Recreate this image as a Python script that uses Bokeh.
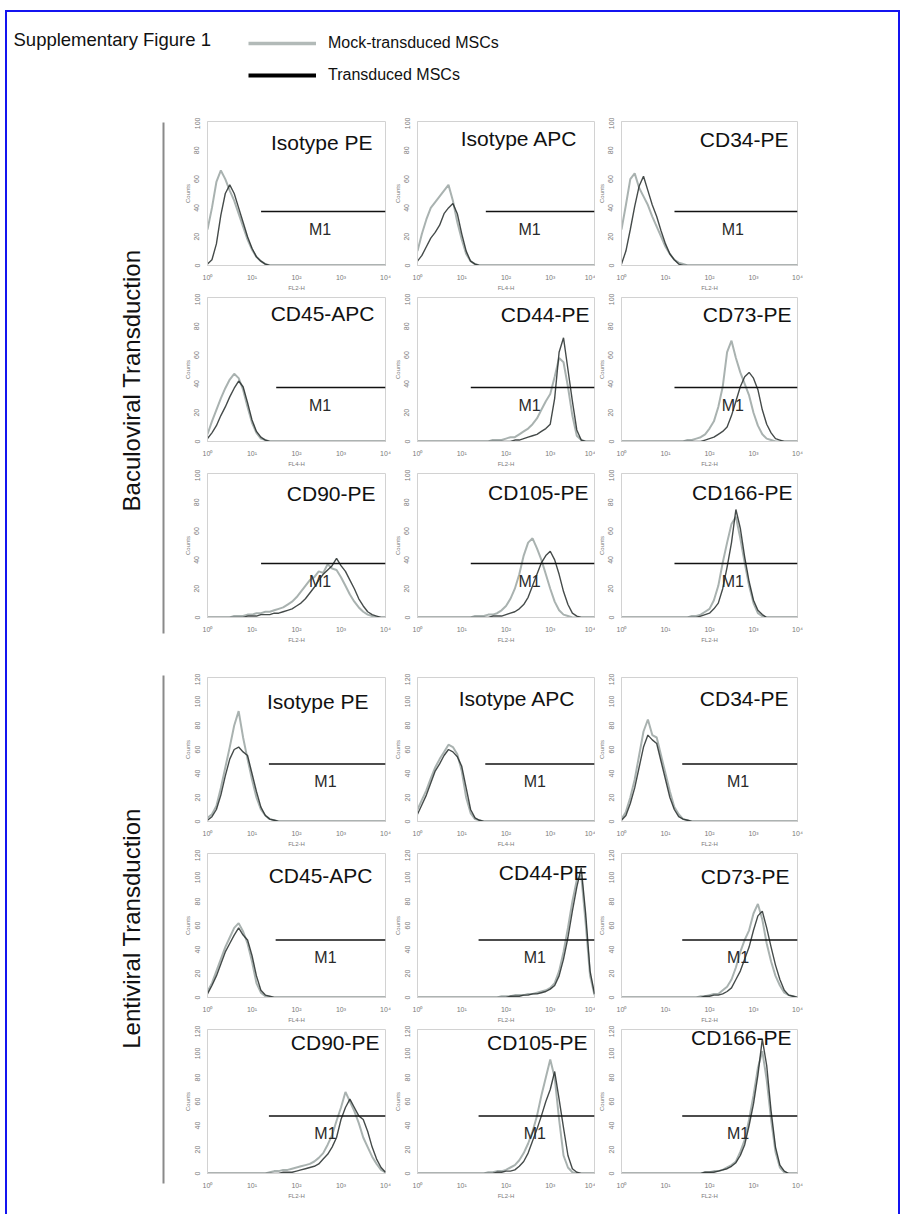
import numpy as np
from bokeh.plotting import figure
from bokeh.layouts import column, row
from bokeh.models import Range1d, FixedTicker, Label, Legend, LegendItem, Spacer
from bokeh.embed import file_html
from bokeh.resources import INLINE

# ---------------- data ----------------
# channel positions (log10 of fluorescence), shared by every histogram
LOG_CH = [0.0, 0.1, 0.2, 0.3, 0.4, 0.5, 0.6, 0.7, 0.8, 0.9,
          1.0, 1.1, 1.2, 1.3, 1.4, 1.5, 1.6, 1.7, 1.8, 1.9,
          2.0, 2.1, 2.2, 2.3, 2.4, 2.5, 2.6, 2.7, 2.8, 2.9,
          3.0, 3.1, 3.2, 3.3, 3.4, 3.5, 3.6, 3.7, 3.8, 3.9, 4.0]

X_TICKS = [1, 10, 100, 1000, 10000]
X_TICK_LABELS = ["10\u2070", "10\u00b9", "10\u00b2", "10\u00b3", "10\u2074"]
B_YTICKS = [0, 20, 40, 60, 80, 100]
L_YTICKS = [0, 20, 40, 60, 80, 100, 120]

MARKERS = ["Isotype PE", "Isotype APC", "CD34-PE",
           "CD45-APC", "CD44-PE", "CD73-PE",
           "CD90-PE", "CD105-PE", "CD166-PE"]
CHANNELS = ["FL2-H", "FL4-H", "FL2-H",
            "FL4-H", "FL2-H", "FL2-H",
            "FL2-H", "FL2-H", "FL2-H"]

# Baculoviral transduction: counts per channel
B_ISO_PE_MOCK = [25, 40, 58, 66, 60, 52, 45, 36, 27, 18,
                 11, 6, 3, 1, 0, 0, 0, 0, 0, 0,
                 0, 0, 0, 0, 0, 0, 0, 0, 0, 0,
                 0, 0, 0, 0, 0, 0, 0, 0, 0, 0, 0]
B_ISO_PE_TRANS = [1, 4, 15, 35, 50, 56, 50, 40, 30, 20,
                  12, 6, 3, 1, 0, 0, 0, 0, 0, 0,
                  0, 0, 0, 0, 0, 0, 0, 0, 0, 0,
                  0, 0, 0, 0, 0, 0, 0, 0, 0, 0, 0]
B_ISO_APC_MOCK = [10, 22, 32, 40, 44, 48, 52, 56, 45, 30,
                  18, 8, 3, 1, 0, 0, 0, 0, 0, 0,
                  0, 0, 0, 0, 0, 0, 0, 0, 0, 0,
                  0, 0, 0, 0, 0, 0, 0, 0, 0, 0, 0]
B_ISO_APC_TRANS = [3, 7, 13, 19, 23, 28, 36, 40, 43, 36,
                   22, 10, 3, 1, 0, 0, 0, 0, 0, 0,
                   0, 0, 0, 0, 0, 0, 0, 0, 0, 0,
                   0, 0, 0, 0, 0, 0, 0, 0, 0, 0, 0]
B_CD34_MOCK = [25, 42, 60, 64, 54, 48, 42, 34, 27, 20,
               13, 8, 4, 2, 1, 0, 0, 0, 0, 0,
               0, 0, 0, 0, 0, 0, 0, 0, 0, 0,
               0, 0, 0, 0, 0, 0, 0, 0, 0, 0, 0]
B_CD34_TRANS = [1, 10, 25, 41, 55, 62, 52, 42, 34, 24,
                15, 8, 4, 1, 0, 0, 0, 0, 0, 0,
                0, 0, 0, 0, 0, 0, 0, 0, 0, 0,
                0, 0, 0, 0, 0, 0, 0, 0, 0, 0, 0]
B_CD45_MOCK = [5, 14, 22, 30, 37, 43, 47, 44, 36, 24,
               13, 6, 2, 1, 0, 0, 0, 0, 0, 0,
               0, 0, 0, 0, 0, 0, 0, 0, 0, 0,
               0, 0, 0, 0, 0, 0, 0, 0, 0, 0, 0]
B_CD45_TRANS = [2, 6, 11, 18, 24, 31, 37, 42, 38, 27,
                15, 7, 3, 1, 0, 0, 0, 0, 0, 0,
                0, 0, 0, 0, 0, 0, 0, 0, 0, 0,
                0, 0, 0, 0, 0, 0, 0, 0, 0, 0, 0]
B_CD44_MOCK = [0, 0, 0, 0, 0, 0, 0, 0, 0, 0,
               0, 0, 0, 0, 0, 0, 0, 1, 1, 1,
               2, 3, 3, 5, 7, 9, 12, 16, 22, 28,
               33, 45, 58, 55, 38, 18, 4, 1, 0, 0, 0]
B_CD44_TRANS = [0, 0, 0, 0, 0, 0, 0, 0, 0, 0,
                0, 0, 0, 0, 0, 0, 0, 0, 0, 0,
                0, 0, 1, 1, 2, 3, 4, 5, 7, 9,
                12, 30, 62, 72, 50, 28, 8, 1, 0, 0, 0]
B_CD73_MOCK = [0, 0, 0, 0, 0, 0, 0, 0, 0, 0,
               0, 0, 0, 0, 0, 1, 1, 2, 3, 5,
               9, 14, 24, 38, 62, 70, 58, 48, 40, 32,
               20, 11, 5, 2, 1, 0, 0, 0, 0, 0, 0]
B_CD73_TRANS = [0, 0, 0, 0, 0, 0, 0, 0, 0, 0,
                0, 0, 0, 0, 0, 0, 0, 0, 0, 1,
                2, 3, 5, 7, 10, 18, 28, 38, 45, 48,
                44, 36, 22, 12, 6, 2, 1, 0, 0, 0, 0]
B_CD90_MOCK = [0, 0, 0, 0, 0, 0, 1, 1, 1, 2,
               2, 3, 3, 4, 4, 5, 6, 7, 9, 11,
               14, 18, 22, 26, 28, 32, 31, 37, 34, 33,
               28, 22, 16, 11, 7, 4, 2, 1, 0, 0, 0]
B_CD90_TRANS = [0, 0, 0, 0, 0, 0, 0, 0, 0, 1,
                1, 1, 2, 2, 2, 3, 3, 4, 5, 6,
                8, 10, 13, 17, 21, 26, 30, 33, 36, 41,
                36, 32, 26, 20, 13, 8, 4, 2, 1, 0, 0]
B_CD105_MOCK = [0, 0, 0, 0, 0, 0, 0, 0, 0, 0,
                0, 0, 0, 1, 1, 1, 2, 2, 3, 5,
                8, 13, 20, 30, 43, 52, 55, 48, 40, 30,
                20, 11, 5, 2, 1, 0, 0, 0, 0, 0, 0]
B_CD105_TRANS = [0, 0, 0, 0, 0, 0, 0, 0, 0, 0,
                 0, 0, 0, 0, 0, 0, 0, 1, 1, 1,
                 2, 3, 4, 6, 9, 14, 22, 30, 38, 43,
                 46, 40, 30, 18, 9, 3, 1, 0, 0, 0, 0]
B_CD166_MOCK = [0, 0, 0, 0, 0, 0, 0, 0, 0, 0,
                0, 0, 0, 0, 0, 0, 1, 1, 2, 4,
                6, 12, 22, 38, 52, 65, 70, 55, 38, 22,
                10, 3, 1, 0, 0, 0, 0, 0, 0, 0, 0]
B_CD166_TRANS = [0, 0, 0, 0, 0, 0, 0, 0, 0, 0,
                 0, 0, 0, 0, 0, 0, 0, 0, 1, 2,
                 3, 6, 10, 20, 35, 52, 75, 62, 42, 25,
                 12, 5, 2, 0, 0, 0, 0, 0, 0, 0, 0]

# Lentiviral transduction: counts per channel
L_ISO_PE_MOCK = [3, 6, 13, 28, 45, 62, 80, 92, 70, 52,
                 35, 20, 10, 5, 2, 1, 0, 0, 0, 0,
                 0, 0, 0, 0, 0, 0, 0, 0, 0, 0,
                 0, 0, 0, 0, 0, 0, 0, 0, 0, 0, 0]
L_ISO_PE_TRANS = [1, 4, 10, 22, 38, 52, 60, 62, 58, 55,
                  40, 25, 12, 5, 2, 1, 0, 0, 0, 0,
                  0, 0, 0, 0, 0, 0, 0, 0, 0, 0,
                  0, 0, 0, 0, 0, 0, 0, 0, 0, 0, 0]
L_ISO_APC_MOCK = [10, 18, 26, 36, 45, 52, 58, 64, 62, 56,
                  42, 20, 7, 2, 1, 0, 0, 0, 0, 0,
                  0, 0, 0, 0, 0, 0, 0, 0, 0, 0,
                  0, 0, 0, 0, 0, 0, 0, 0, 0, 0, 0]
L_ISO_APC_TRANS = [6, 14, 22, 32, 42, 48, 55, 60, 58, 54,
                   46, 28, 10, 3, 1, 0, 0, 0, 0, 0,
                   0, 0, 0, 0, 0, 0, 0, 0, 0, 0,
                   0, 0, 0, 0, 0, 0, 0, 0, 0, 0, 0]
L_CD34_MOCK = [2, 8, 20, 35, 55, 75, 85, 72, 70, 55,
               40, 25, 12, 6, 2, 1, 0, 0, 0, 0,
               0, 0, 0, 0, 0, 0, 0, 0, 0, 0,
               0, 0, 0, 0, 0, 0, 0, 0, 0, 0, 0]
L_CD34_TRANS = [1, 5, 15, 28, 45, 62, 72, 68, 65, 50,
                35, 20, 10, 4, 2, 1, 0, 0, 0, 0,
                0, 0, 0, 0, 0, 0, 0, 0, 0, 0,
                0, 0, 0, 0, 0, 0, 0, 0, 0, 0, 0]
L_CD45_MOCK = [5, 12, 22, 32, 42, 50, 58, 62, 55, 45,
               30, 12, 4, 1, 0, 0, 0, 0, 0, 0,
               0, 0, 0, 0, 0, 0, 0, 0, 0, 0,
               0, 0, 0, 0, 0, 0, 0, 0, 0, 0, 0]
L_CD45_TRANS = [3, 10, 18, 28, 38, 45, 52, 58, 52, 48,
                35, 18, 6, 2, 1, 0, 0, 0, 0, 0,
                0, 0, 0, 0, 0, 0, 0, 0, 0, 0,
                0, 0, 0, 0, 0, 0, 0, 0, 0, 0, 0]
L_CD44_MOCK = [0, 0, 0, 0, 0, 0, 0, 0, 0, 0,
               0, 0, 0, 0, 0, 0, 0, 0, 0, 1,
               1, 1, 2, 2, 2, 3, 3, 4, 5, 6,
               8, 12, 22, 38, 58, 80, 98, 102, 62, 18, 2]
L_CD44_TRANS = [0, 0, 0, 0, 0, 0, 0, 0, 0, 0,
                0, 0, 0, 0, 0, 0, 0, 0, 0, 0,
                0, 1, 1, 1, 2, 2, 3, 3, 4, 5,
                7, 10, 18, 32, 50, 72, 92, 108, 70, 22, 3]
L_CD73_MOCK = [0, 0, 0, 0, 0, 0, 0, 0, 0, 0,
               0, 0, 0, 0, 0, 0, 0, 0, 1, 1,
               2, 3, 3, 6, 9, 15, 25, 38, 48, 56,
               70, 78, 65, 45, 30, 18, 10, 4, 2, 1, 0]
L_CD73_TRANS = [0, 0, 0, 0, 0, 0, 0, 0, 0, 0,
                0, 0, 0, 0, 0, 0, 0, 0, 0, 1,
                1, 2, 2, 3, 5, 8, 15, 22, 32, 42,
                56, 68, 72, 58, 42, 27, 15, 6, 2, 1, 0]
L_CD90_MOCK = [0, 0, 0, 0, 0, 0, 0, 0, 0, 0,
               0, 0, 0, 0, 1, 2, 2, 3, 3, 4,
               5, 6, 7, 8, 10, 13, 17, 24, 32, 44,
               55, 68, 60, 52, 42, 30, 22, 14, 8, 3, 1]
L_CD90_TRANS = [0, 0, 0, 0, 0, 0, 0, 0, 0, 0,
                0, 0, 0, 0, 0, 0, 0, 1, 1, 1,
                2, 3, 4, 5, 6, 8, 12, 16, 22, 30,
                45, 55, 62, 55, 48, 45, 35, 22, 12, 5, 1]
L_CD105_MOCK = [0, 0, 0, 0, 0, 0, 0, 0, 0, 0,
                0, 0, 0, 0, 0, 0, 1, 1, 2, 2,
                3, 5, 7, 11, 17, 25, 35, 48, 65, 80,
                95, 80, 45, 15, 5, 1, 0, 0, 0, 0, 0]
L_CD105_TRANS = [0, 0, 0, 0, 0, 0, 0, 0, 0, 0,
                 0, 0, 0, 0, 0, 0, 0, 0, 1, 1,
                 2, 2, 3, 6, 10, 17, 27, 37, 48, 60,
                 70, 85, 62, 38, 15, 4, 1, 0, 0, 0, 0]
L_CD166_MOCK = [0, 0, 0, 0, 0, 0, 0, 0, 0, 0,
                0, 0, 0, 0, 0, 0, 0, 0, 0, 1,
                1, 2, 2, 3, 5, 7, 10, 18, 28, 45,
                65, 88, 102, 78, 45, 18, 5, 1, 0, 0, 0]
L_CD166_TRANS = [0, 0, 0, 0, 0, 0, 0, 0, 0, 0,
                 0, 0, 0, 0, 0, 0, 0, 0, 0, 1,
                 1, 1, 2, 3, 4, 6, 9, 15, 24, 40,
                 58, 82, 112, 90, 52, 22, 7, 2, 0, 0, 0]

B_MOCK = [B_ISO_PE_MOCK, B_ISO_APC_MOCK, B_CD34_MOCK, B_CD45_MOCK, B_CD44_MOCK,
          B_CD73_MOCK, B_CD90_MOCK, B_CD105_MOCK, B_CD166_MOCK]
B_TRANS = [B_ISO_PE_TRANS, B_ISO_APC_TRANS, B_CD34_TRANS, B_CD45_TRANS, B_CD44_TRANS,
           B_CD73_TRANS, B_CD90_TRANS, B_CD105_TRANS, B_CD166_TRANS]
L_MOCK = [L_ISO_PE_MOCK, L_ISO_APC_MOCK, L_CD34_MOCK, L_CD45_MOCK, L_CD44_MOCK,
          L_CD73_MOCK, L_CD90_MOCK, L_CD105_MOCK, L_CD166_MOCK]
L_TRANS = [L_ISO_PE_TRANS, L_ISO_APC_TRANS, L_CD34_TRANS, L_CD45_TRANS, L_CD44_TRANS,
           L_CD73_TRANS, L_CD90_TRANS, L_CD105_TRANS, L_CD166_TRANS]

# M1 gate (marker region)
B_GATE_Y = 37.5
L_GATE_Y = 48
B_GATE_START = {"FL2-H": 16, "FL4-H": 35}
L_GATE_START = {"FL2-H": 24, "FL4-H": 34}
GATE_END = 10000
B_M1_POS = (340, 25)
L_M1_POS = (447, 33)

# ---------------- styles ----------------
for arr in B_MOCK + B_TRANS + L_MOCK + L_TRANS:
    assert len(arr) == len(LOG_CH)

MOCK_COLOR = "#a4aeac"
TRANS_COLOR = "#252b2a"
SANS = "Liberation Sans"
TICK_COLOR = "#7a7a7a"
BLUE = "#1414f0"

B_TITLE_RIGHT = [13, 17, 9, 11, 5, 6, 10, 6, 5]
B_TITLE_TOP = [21, 17, 18, 16, 17, 17, 20, 19, 19]
L_TITLE_RIGHT = [17, 19, 9, 13, 7, 8, 6, 7, 6]
L_TITLE_TOP = [24, 21, 21, 22, 19, 23, 13, 13, 8]

PAD_L = 22
FRAME_W = [182, 181, 180]
PAD_R = [6, 1, 6]
PAD_T = 4
PAD_B = 20
FRAME_H = 152
SIDE_W = 181
PAGE_W = 902
HEADER_H = 117
SECTION_H = 3 * (PAD_T + FRAME_H + PAD_B)

chan_x = 10 ** np.array(LOG_CH)


def make_panel(i, ymax, yticks, mock, trans, gate_y, gate_start, m1, right_pad, top_pad):
    col = i % 3
    p = figure(width=PAD_L + FRAME_W[col] + PAD_R[col], height=PAD_T + FRAME_H + PAD_B,
               x_axis_type="log", x_range=Range1d(1, 10000), y_range=Range1d(0, ymax),
               min_border_left=PAD_L, min_border_right=PAD_R[col],
               min_border_top=PAD_T, min_border_bottom=PAD_B,
               output_backend="svg", toolbar_location=None)
    p.grid.visible = False
    p.outline_line_color = "#d2d2d2"
    p.border_fill_color = "white"
    p.background_fill_color = "white"

    xa = p.xaxis[0]
    xa.ticker = FixedTicker(ticks=X_TICKS)
    xa.major_label_overrides = {t: s for t, s in zip(X_TICKS, X_TICK_LABELS)}
    xa.axis_label = CHANNELS[i]
    ya = p.yaxis[0]
    ya.ticker = FixedTicker(ticks=yticks)
    ya.axis_label = "Counts"
    ya.major_label_orientation = "vertical"
    for ax in (xa, ya):
        ax.axis_line_color = "#d2d2d2"
        ax.major_tick_line_color = None
        ax.minor_tick_line_color = None
        ax.major_label_text_font = SANS
        ax.major_label_text_font_size = "7px"
        ax.major_label_text_color = TICK_COLOR
        ax.major_label_standoff = 2
        ax.axis_label_text_font = SANS
        ax.axis_label_text_font_size = "6px"
        ax.axis_label_text_font_style = "normal"
        ax.axis_label_text_color = TICK_COLOR
        ax.axis_label_standoff = 1

    p.line(chan_x, mock, line_color=MOCK_COLOR, line_width=2.0, line_alpha=0.95)
    p.line(chan_x, trans, line_color=TRANS_COLOR, line_width=1.4, line_alpha=0.85)
    p.line([gate_start[CHANNELS[i]], GATE_END], [gate_y, gate_y],
           line_color="#111111", line_width=1.5)

    p.add_layout(Label(x=m1[0], y=m1[1], text="M1", text_align="center",
                       text_baseline="middle", text_font=SANS, text_font_size="16px",
                       text_color="#2a2a2a"))
    p.add_layout(Label(x=GATE_END, y=ymax, x_offset=-right_pad, y_offset=-top_pad,
                       text=MARKERS[i], text_align="right", text_baseline="middle",
                       text_font=SANS, text_font_size="21px", text_color="#111111"))
    return p


def blank_fig(w, h):
    f = figure(width=w, height=h, x_range=Range1d(0, w), y_range=Range1d(h, 0),
               x_axis_location=None, y_axis_location=None, min_border=0,
               outline_line_color=None, output_backend="svg", toolbar_location=None)
    f.grid.visible = False
    f.border_fill_alpha = 0
    f.background_fill_alpha = 0
    return f


def make_section(label, ymax, yticks, mocks, transs, gate_y, gate_start, m1,
                 right_pads, top_pads, line_top, line_bottom, label_y):
    side = blank_fig(SIDE_W, SECTION_H)
    side.segment(x0=[163], y0=[line_top], x1=[163], y1=[line_bottom],
                 line_color="#8a8a8a", line_width=2)
    side.add_layout(Label(x=131, y=label_y, text=label, angle=np.pi / 2,
                          text_align="center", text_baseline="middle",
                          text_font=SANS, text_font_size="24px", text_color="#111111"))
    panels = [make_panel(i, ymax, yticks, mocks[i], transs[i], gate_y, gate_start, m1,
                         right_pads[i], top_pads[i]) for i in range(9)]
    grid = column(row(*panels[0:3]), row(*panels[3:6]), row(*panels[6:9]))
    return row(side, grid)


# ---------------- header ----------------
hdr = blank_fig(PAGE_W, HEADER_H)
hdr.add_layout(Label(x=13, y=39, text="Supplementary Figure 1", text_align="left",
                     text_baseline="middle", text_font=SANS, text_font_size="18.5px",
                     text_color="#111111"))
r_mock = hdr.line(x=[-20, -10], y=[-20, -20], line_color="#b2bab8", line_width=3.5)
r_trans = hdr.line(x=[-20, -10], y=[-20, -20], line_color="#000000", line_width=4)
legend = Legend(items=[LegendItem(label="Mock-transduced MSCs", renderers=[r_mock]),
                       LegendItem(label="Transduced MSCs", renderers=[r_trans])],
                location=(248, 32), orientation="vertical", glyph_width=68, glyph_height=20,
                label_height=20, label_standoff=12, spacing=12, padding=0, margin=0,
                border_line_color=None, background_fill_alpha=0,
                label_text_font=SANS, label_text_font_size="16px",
                label_text_color="#111111")
hdr.add_layout(legend)

bacu = make_section("Baculoviral Transduction", 100, B_YTICKS, B_MOCK, B_TRANS, B_GATE_Y,
                    B_GATE_START, B_M1_POS, B_TITLE_RIGHT, B_TITLE_TOP, 5, 516, 263)
lenti = make_section("Lentiviral Transduction", 120, L_YTICKS, L_MOCK, L_TRANS, L_GATE_Y,
                     L_GATE_START, L_M1_POS, L_TITLE_RIGHT, L_TITLE_TOP, 2, 510, 255)

# blue page frame (left, top, right): white insets listed first so they sit on top
frame_css = ", ".join([
    "inset 5px 0 0 0 white", "inset 0 10px 0 0 white", "inset -2px 0 0 0 white",
    f"inset 7px 0 0 0 {BLUE}", f"inset 0 12px 0 0 {BLUE}", f"inset -4px 0 0 0 {BLUE}",
])
page = column(hdr, bacu, Spacer(width=10, height=28), lenti, Spacer(width=10, height=13),
              styles={"box-shadow": frame_css})

open("out.html", "w").write(file_html(page, INLINE))
